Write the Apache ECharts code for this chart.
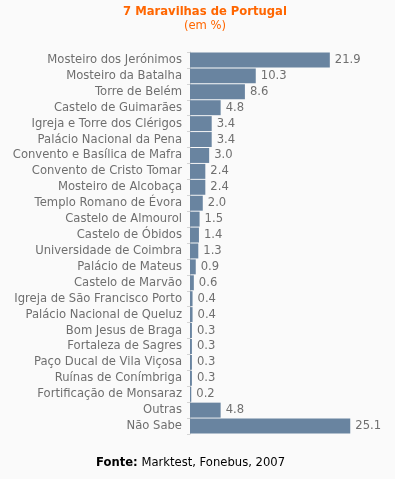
<!DOCTYPE html>
<html>
<head>
<meta charset="utf-8">
<script src="https://cdn.jsdelivr.net/npm/echarts@6/dist/echarts.min.js"></script>
<style>
html,body{margin:0;padding:0;background:#fafafa;}
#c{width:395px;height:479px;}
</style>
</head>
<body>
<div id="c"></div>
<script>
var categories = [
  "Mosteiro dos Jerónimos","Mosteiro da Batalha","Torre de Belém","Castelo de Guimarães",
  "Igreja e Torre dos Clérigos","Palácio Nacional da Pena","Convento e Basílica de Mafra",
  "Convento de Cristo Tomar","Mosteiro de Alcobaça","Templo Romano de Évora","Castelo de Almourol",
  "Castelo de Óbidos","Universidade de Coimbra","Palácio de Mateus","Castelo de Marvão",
  "Igreja de São Francisco Porto","Palácio Nacional de Queluz","Bom Jesus de Braga",
  "Fortaleza de Sagres","Paço Ducal de Vila Viçosa","Ruínas de Conímbriga",
  "Fortificação de Monsaraz","Outras","Não Sabe"
];
var values = [21.9,10.3,8.6,4.8,3.4,3.4,3.0,2.4,2.4,2.0,1.5,1.4,1.3,0.9,0.6,0.4,0.4,0.3,0.3,0.3,0.3,0.2,4.8,25.1];
var titleText = "7 Maravilhas de Portugal";
var subtitleText = "(em %)";
var sourceLabel = "Fonte:";
var sourceText = " Marktest, Fonebus, 2007";

var chart = echarts.init(document.getElementById('c'));
var font = "DejaVu Sans, Verdana, sans-serif";
var fs = 11.6;
chart.setOption({
  backgroundColor: '#fafafa',
  animation: false,
  title: {
    text: titleText,
    subtext: subtitleText,
    left: 200, top: 1, textAlign: 'center',
    itemGap: 2,
    textStyle: {color: '#ff6600', fontSize: fs, fontWeight: 'bold', fontFamily: font},
    subtextStyle: {color: '#ff6600', fontSize: fs, fontFamily: font}
  },
  graphic: [{
    type: 'text', left: 96, top: 457,
    style: {
      rich: {b: {fontWeight: 'bold', fontSize: fs, fontFamily: font, fill: '#000'},
             n: {fontSize: fs, fontFamily: font, fill: '#000'}},
      text: '{b|' + sourceLabel + '}{n|' + sourceText + '}'
    }
  }],
  grid: {left: 190, top: 52, width: 166, height: 382, containLabel: false},
  xAxis: {
    type: 'value', min: 0, max: 26, show: false
  },
  yAxis: {
    type: 'category', inverse: true, data: categories,
    axisLine: {show: true, lineStyle: {color: '#d4d4d4', width: 1}},
    axisTick: {show: true, length: 3, lineStyle: {color: '#d4d4d4'}},
    axisLabel: {color: '#6f6f6f', fontSize: fs, fontFamily: font, margin: 8, interval: 0},
    splitLine: {show: false}
  },
  series: [{
    type: 'bar', data: values,
    barCategoryGap: '6%',
    itemStyle: {color: '#6984a0'},
    label: {
      show: true, position: 'right', distance: 5,
      color: '#6f6f6f', fontSize: fs, fontFamily: font,
      formatter: function(p){ return p.value.toFixed(1); }
    }
  }]
});
</script>
</body>
</html>
